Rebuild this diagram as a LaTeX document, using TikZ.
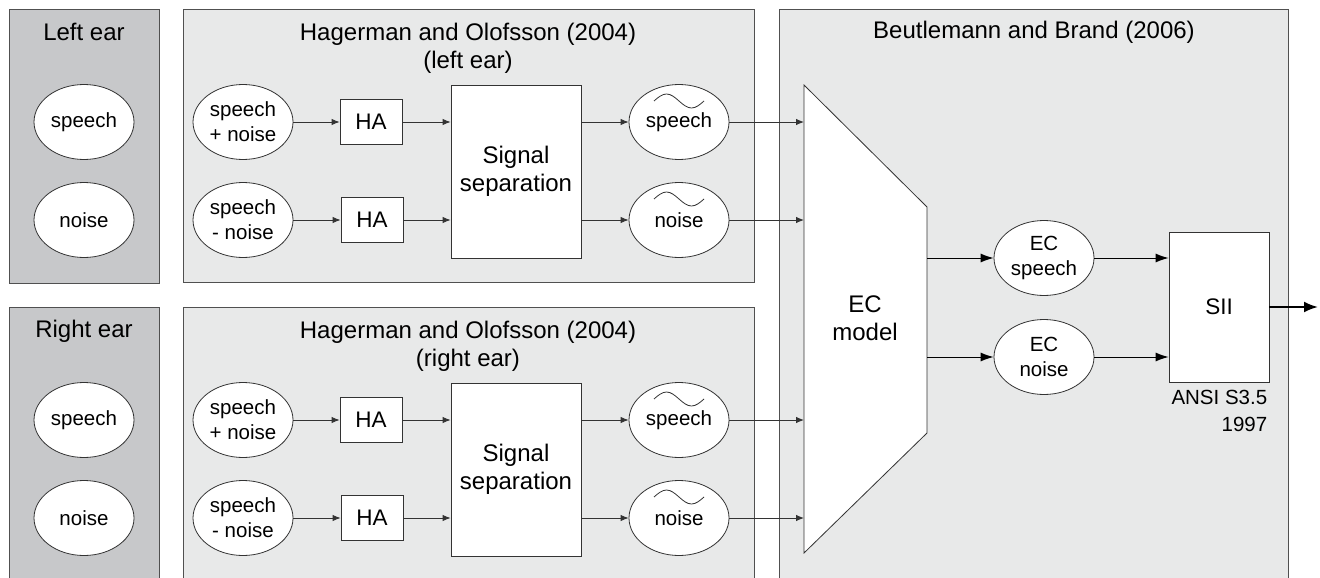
\documentclass[tikz,border=0pt]{standalone}
\usepackage{fontspec}
\setmainfont{Liberation Sans}
\usetikzlibrary{shapes.geometric,arrows.meta}
\definecolor{eargray}{RGB}{199,200,202}
\definecolor{boxgray}{RGB}{232,233,233}
\definecolor{edgegray}{RGB}{80,80,80}
\tikzset{
  panel/.style={draw=edgegray,line width=1pt},
  sig/.style={ellipse,draw=black!80,line width=0.8pt,fill=white,minimum width=100pt,minimum height=75pt,inner sep=0pt,align=center,font=\fontsize{20.5}{25}\selectfont},
  blk/.style={draw=black!80,line width=0.8pt,fill=white,inner sep=0pt,align=center},
  ttl/.style={align=center,font=\fontsize{24}{28}\selectfont},
  thinarr/.style={draw=black!80,line width=0.9pt,-{Latex[length=8pt,width=6.5pt]}},
  thickarr/.style={draw=black,line width=1pt,-{Latex[length=13pt,width=9pt]}}
}
\begin{document}
\begin{tikzpicture}[x=1pt,y=-1pt]
        \useasboundingbox (0,0) rectangle (1320,578);
        \draw[panel,fill=eargray] (9,10) rectangle (159,283);
        \draw[panel,fill=eargray] (9,307) rectangle (159,590);
        \draw[panel,fill=boxgray] (183,10) rectangle (754,282);
        \draw[panel,fill=boxgray] (183,307) rectangle (754,590);
        \draw[panel,fill=boxgray] (779,10) rectangle (1288,590);
        \node[ttl] (lear) at (84,32) {Left ear};
        \node[ttl] (rear) at (84,331) {Right ear};
        \node[sig] (lsp) at (84,122) {speech};
        \node[sig] (lno) at (84,220) {noise};
        \node[sig] (rsp) at (84,420) {speech};
        \node[sig] (rno) at (84,518) {noise};
        \node[ttl] (beut) at (1034,32) {Beutlemann and Brand (2006)};
        \draw[draw=black!80,line width=0.8pt,fill=white] (804,85) coordinate (ecin) -- (927,207) -- (927,433) coordinate (ecout) -- (804,553) -- cycle;
        \node[ttl] (ec) at (865,318) {EC\\model};
        \foreach \s/\dy/\ear in {l/0/left,r/298/right} {
            \node[ttl] (hag\s) at (468,48+\dy) {Hagerman and Olofsson (2004)\\(\ear\ ear)};
            \node[sig] (sn\s) at (243,122+\dy) {speech\\+ noise};
            \node[sig] (sd\s) at (243,220+\dy) {speech\\- noise};
            \node[blk,minimum width=62pt,minimum height=45pt,font=\fontsize{22.5}{27}\selectfont] (hau\s) at (371,122+\dy) {HA};
            \node[blk,minimum width=62pt,minimum height=45pt,font=\fontsize{22.5}{27}\selectfont] (had\s) at (372,220+\dy) {HA};
            \node[blk,minimum width=130pt,minimum height=173pt,font=\fontsize{24}{28}\selectfont] (sep\s) at (516,171.5+\dy) {Signal\\separation};
            \node[sig] (ts\s) at (679,122+\dy) {speech};
            \node[sig] (tn\s) at (679,220+\dy) {noise};
            \draw[thinarr] (sn\s.east) -- (hau\s.west);
            \draw[thinarr] (sd\s.east) -- (had\s.west);
            \draw[thinarr] (hau\s.east) -- (hau\s.east -| sep\s.west);
            \draw[thinarr] (had\s.east) -- (had\s.east -| sep\s.west);
            \draw[thinarr] (ts\s.west -| sep\s.east) -- (ts\s.west);
            \draw[thinarr] (tn\s.west -| sep\s.east) -- (tn\s.west);
            \draw[thinarr] (ts\s.east) -- (ts\s.east -| ecin);
            \draw[thinarr] (tn\s.east) -- (tn\s.east -| ecin);
        }
        \foreach \n in {tsl,tnl,tsr,tnr} {
            \draw[black!80,line width=0.8pt] ([shift={(-25,-21)}]\n.center) sin ++(12.5,-7) cos ++(12.5,7) sin ++(12.5,7) cos ++(12.5,-7);
        }
        \node[sig] (ecs) at (1044,258) {EC\\speech};
        \node[sig] (ecn) at (1044,357) {EC\\noise};
        \node[blk,minimum width=100pt,minimum height=150pt,font=\fontsize{22.5}{27}\selectfont] (sii) at (1219,307) {SII};
        \node[anchor=north east,align=right,inner sep=2pt,yshift=-6pt,font=\fontsize{20.5}{27}\selectfont] (ansi) at (sii.south east) {ANSI S3.5\\1997};
        \draw[thickarr] (ecs.west -| ecout) -- (ecs.west);
        \draw[thickarr] (ecn.west -| ecout) -- (ecn.west);
        \draw[thickarr] (ecs.east) -- (ecs.east -| sii.west);
        \draw[thickarr] (ecn.east) -- (ecn.east -| sii.west);
        \coordinate (out) at (1318,307);
        \draw[line width=2.2pt,-{Latex[length=14pt,width=11pt]}] (sii.east) -- (out);
    \end{tikzpicture}
\end{document}
